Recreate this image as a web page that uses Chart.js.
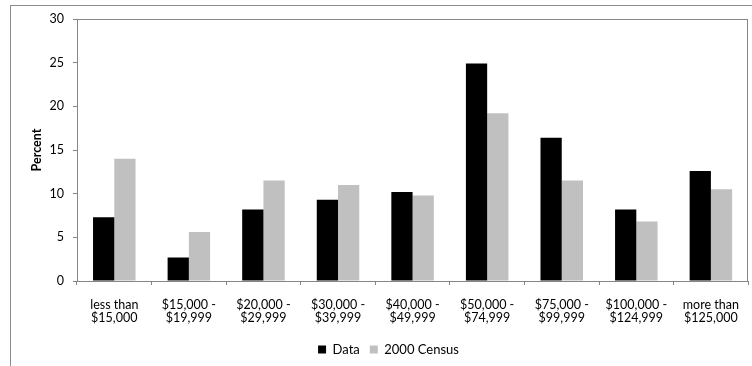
<!DOCTYPE html>
<html>
<head>
<meta charset="utf-8">
<script src="https://cdn.jsdelivr.net/npm/chart.js@4.4.0/dist/chart.umd.min.js"></script>
<style>
    html, body { margin: 0; padding: 0; background: #ffffff; overflow: hidden; }
    #wrap { position: relative; width: 752px; height: 366px; }
    #frame {
        position: absolute; left: 10px; top: 5px;
        width: 800px; height: 420px;
        border: 1px solid #8c8c8c; box-sizing: border-box;
    }
    canvas { position: absolute; left: 0; top: 0; }
</style>
</head>
<body>
<div id="wrap">
    <div id="frame"></div>
    <canvas id="income-chart" width="752" height="366"></canvas>
</div>
<script>
// Household income brackets, share of households in percent
const incomeBrackets = [
    ['less than', '$15,000'],
    ['$15,000 -', '$19,999'],
    ['$20,000 -', '$29,999'],
    ['$30,000 -', '$39,999'],
    ['$40,000 -', '$49,999'],
    ['$50,000 -', '$74,999'],
    ['$75,000 -', '$99,999'],
    ['$100,000 -', '$124,999'],
    ['more than', '$125,000'],
];
const surveyPercent = [7.3, 2.7, 8.2, 9.3, 10.2, 24.9, 16.4, 8.2, 12.6];
const censusPercent = [14.0, 5.6, 11.5, 11.0, 9.8, 19.2, 11.5, 6.8, 10.5];
const percentTicks = [0, 5, 10, 15, 20, 25, 30];

const axisGray = '#868686';
const fontFamily = 'Lato, "Open Sans", sans-serif';

// Box around the plot area
const plotFrame = {
    id: 'plotFrame',
    afterDraw(chart) {
        const { ctx, chartArea } = chart;
        ctx.save();
        ctx.strokeStyle = axisGray;
        ctx.lineWidth = 1;
        ctx.strokeRect(
            Math.round(chartArea.left) + 0.5,
            Math.round(chartArea.top) + 0.5,
            Math.round(chartArea.right - chartArea.left) - 1,
            Math.round(chartArea.bottom - chartArea.top)
        );
        ctx.restore();
    }
};

// Nudge the legend so it sits where it should under the plot
const legendShift = {
    id: 'legendShift',
    afterLayout(chart) {
        chart.legend.left += 8;
        chart.legend.right += 8;
    }
};

const context = document.getElementById('income-chart').getContext('2d');

const incomeChart = new Chart(context, {
    type: 'bar',
    data: {
        labels: incomeBrackets,
        datasets: [
            {
                label: 'Data',
                data: surveyPercent,
                backgroundColor: '#000000',
                barPercentage: 1,
                categoryPercentage: 0.57
            },
            {
                label: '2000 Census',
                data: censusPercent,
                backgroundColor: '#c0c0c0',
                barPercentage: 1,
                categoryPercentage: 0.57
            }
        ]
    },
    options: {
        responsive: false,
        animation: false,
        devicePixelRatio: 1,
        layout: {
            padding: { left: 10, right: 1, top: 19, bottom: 0 }
        },
        scales: {
            x: {
                grid: {
                    drawOnChartArea: false,
                    drawTicks: true,
                    tickLength: 4,
                    color: axisGray
                },
                border: { color: axisGray },
                ticks: {
                    color: '#000000',
                    padding: 13,
                    maxRotation: 0,
                    autoSkip: false,
                    font: { family: fontFamily, size: 12.5, lineHeight: 1.05 }
                },
                afterFit(scale) {
                    scale.height = 52;
                }
            },
            y: {
                min: 0,
                max: 30,
                afterBuildTicks(scale) {
                    scale.ticks = percentTicks.map(value => ({ value }));
                },
                grid: {
                    drawOnChartArea: false,
                    drawTicks: true,
                    tickLength: 4,
                    color: axisGray
                },
                border: { color: axisGray },
                ticks: {
                    color: '#000000',
                    padding: 9,
                    font: { family: fontFamily, size: 12.5 }
                },
                title: {
                    display: true,
                    text: 'Percent',
                    color: '#000000',
                    padding: { top: 19, bottom: 0 },
                    font: { family: fontFamily, size: 12.5, weight: 'bold' }
                },
                afterFit(scale) {
                    scale.width = 67;
                }
            }
        },
        plugins: {
            legend: {
                position: 'bottom',
                labels: {
                    boxWidth: 8,
                    boxHeight: 8,
                    color: '#000000',
                    padding: 10,
                    font: { family: fontFamily, size: 13 }
                }
            },
            tooltip: { enabled: false }
        }
    },
    plugins: [plotFrame, legendShift]
});
</script>
</body>
</html>
